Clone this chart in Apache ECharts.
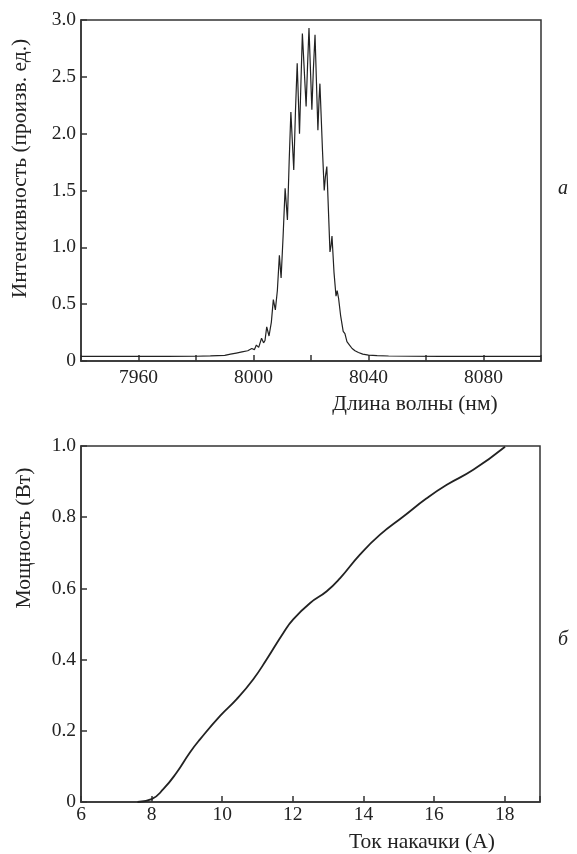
<!DOCTYPE html>
<html>
<head>
<meta charset="utf-8">
<script src="https://cdn.jsdelivr.net/npm/echarts@6/dist/echarts.min.js"></script>
<style>
html,body{margin:0;padding:0;background:#fff;}
#chart{width:577px;height:854px;}
</style>
</head>
<body>
<div id="chart"></div>
<script>
// Panel a: spectrum (wavelength nm, intensity arb. units)
const spectrumWavelength = [7940, 7950, 7960, 7970, 7980, 7985, 7990, 7992, 7994, 7996, 7998, 7999.4, 8000.3, 8001, 8001.8, 8002.8, 8003.5, 8004.0, 8004.6, 8005.4, 8006.2, 8006.9, 8007.6, 8008.3, 8009.0, 8009.6, 8010.3, 8011.0, 8011.8, 8012.4, 8013.0, 8014.0, 8014.6, 8015.2, 8016.0, 8016.5, 8017.0, 8018.3, 8018.8, 8019.3, 8020.3, 8020.8, 8021.4, 8022.4, 8022.8, 8023.1, 8024.0, 8024.6, 8025.0, 8025.5, 8026.6, 8027.0, 8027.3, 8028.0, 8028.7, 8029.1, 8029.6, 8030.3, 8031.2, 8031.8, 8032.5, 8033.4, 8034.3, 8035.3, 8036.5, 8038, 8040, 8043, 8047, 8055, 8065, 8080, 8100];
const spectrumIntensity = [0.04, 0.04, 0.04, 0.04, 0.042, 0.045, 0.05, 0.06, 0.07, 0.08, 0.09, 0.11, 0.10, 0.14, 0.12, 0.20, 0.16, 0.18, 0.30, 0.22, 0.34, 0.54, 0.45, 0.62, 0.93, 0.73, 1.10, 1.52, 1.24, 1.75, 2.19, 1.68, 2.20, 2.62, 2.00, 2.45, 2.88, 2.24, 2.60, 2.93, 2.21, 2.55, 2.87, 2.03, 2.30, 2.44, 1.85, 1.50, 1.62, 1.71, 0.96, 1.02, 1.10, 0.78, 0.57, 0.62, 0.55, 0.40, 0.26, 0.24, 0.17, 0.14, 0.11, 0.09, 0.075, 0.06, 0.052, 0.047, 0.044, 0.042, 0.04, 0.04, 0.04];
const specYTicks = [0, 0.5, 1.0, 1.5, 2.0, 2.5, 3.0];

// Panel b: power vs pump current
const pumpCurrent = [7.6, 8.0, 8.33, 8.71, 9.09, 9.37, 9.94, 10.41, 10.88, 11.26, 11.73, 12.01, 12.49, 12.96, 13.34, 13.90, 14.47, 15.13, 15.79, 16.36, 17.11, 18.01];
const outputPower = [0.0, 0.008, 0.036, 0.083, 0.14, 0.176, 0.242, 0.289, 0.345, 0.401, 0.475, 0.513, 0.559, 0.592, 0.629, 0.695, 0.751, 0.802, 0.853, 0.891, 0.933, 0.998];

const chart = echarts.init(document.getElementById('chart'), null, {renderer: 'canvas'});
const FONT = 'Liberation Serif';
const TITLE_SIZE = 21.5;
const axisLine = {show: true, lineStyle: {color: '#333', width: 1.5}};
const tick = {show: true, inside: true, length: 6, lineStyle: {color: '#333', width: 1.5}};
const lbl = {color: '#222', fontFamily: FONT, fontSize: 19.5};

const option = {
  animation: false,
  backgroundColor: '#fff',
  grid: [
    {left: 81, top: 20, width: 460, height: 341, show: true, borderColor: '#333', borderWidth: 1.5, backgroundColor: 'transparent'},
    {left: 81, top: 446, width: 459, height: 357, show: true, borderColor: '#333', borderWidth: 1.5, backgroundColor: 'transparent'}
  ],
  xAxis: [
    {
      gridIndex: 0, type: 'value', min: 7940, max: 8100, interval: 20,
      axisLine, axisTick: tick, splitLine: {show: false},
      axisLabel: Object.assign({}, lbl, {margin: 7, formatter: v => ((v - 7960) % 40 === 0 && v > 7940 && v < 8100) ? String(v) : ''}),
      name: 'Длина волны (нм)', nameLocation: 'middle', nameGap: 32,
      nameTextStyle: {color: '#222', fontFamily: FONT, fontSize: TITLE_SIZE, padding: [0, 0, 0, 208]}
    },
    {
      gridIndex: 1, type: 'value', min: 6, max: 19, interval: 2,
      axisLine, axisTick: tick, splitLine: {show: false},
      axisLabel: Object.assign({}, lbl, {margin: 3, formatter: v => (v >= 19 ? '' : String(v))}),
      name: 'Ток накачки (А)', nameLocation: 'middle', nameGap: 29,
      nameTextStyle: {color: '#222', fontFamily: FONT, fontSize: TITLE_SIZE, padding: [0, 0, 0, 223]}
    }
  ],
  yAxis: [
    {
      gridIndex: 0, type: 'value', min: 0, max: 3, interval: 0.5,
      axisLine, axisTick: tick, splitLine: {show: false},
      axisLabel: Object.assign({}, lbl, {margin: 5, formatter: v => (v === 0 ? '0' : v.toFixed(1))}),
      name: 'Интенсивность (произв. ед.)', nameLocation: 'middle', nameGap: 50, nameRotate: 90,
      nameTextStyle: {color: '#222', fontFamily: FONT, fontSize: TITLE_SIZE, padding: [0, 0, 0, 44]}
    },
    {
      gridIndex: 1, type: 'value', min: 0, max: 1, interval: 0.2,
      axisLine, axisTick: tick, splitLine: {show: false},
      axisLabel: Object.assign({}, lbl, {margin: 5, formatter: v => (v === 0 ? '0' : v.toFixed(1))}),
      name: 'Мощность (Вт)', nameLocation: 'middle', nameGap: 46, nameRotate: 90,
      nameTextStyle: {color: '#222', fontFamily: FONT, fontSize: TITLE_SIZE, padding: [0, 0, 0, 172]}
    }
  ],
  series: [
    {
      type: 'line', xAxisIndex: 0, yAxisIndex: 0, showSymbol: false, smooth: false,
      lineStyle: {color: '#222', width: 1.2},
      data: spectrumWavelength.map((w, i) => [w, spectrumIntensity[i]])
    },
    {
      type: 'line', xAxisIndex: 1, yAxisIndex: 1, showSymbol: false, smooth: true,
      lineStyle: {color: '#222', width: 1.8},
      data: pumpCurrent.map((c, i) => [c, outputPower[i]])
    }
  ],
  graphic: [
    {type: 'text', left: 558, top: 179, style: {text: 'а', fontFamily: FONT, fontStyle: 'italic', fontSize: 20, fill: '#222'}},
    {type: 'text', left: 558, top: 630, style: {text: 'б', fontFamily: FONT, fontStyle: 'italic', fontSize: 20, fill: '#222'}}
  ]
};
chart.setOption(option);
</script>
</body>
</html>
